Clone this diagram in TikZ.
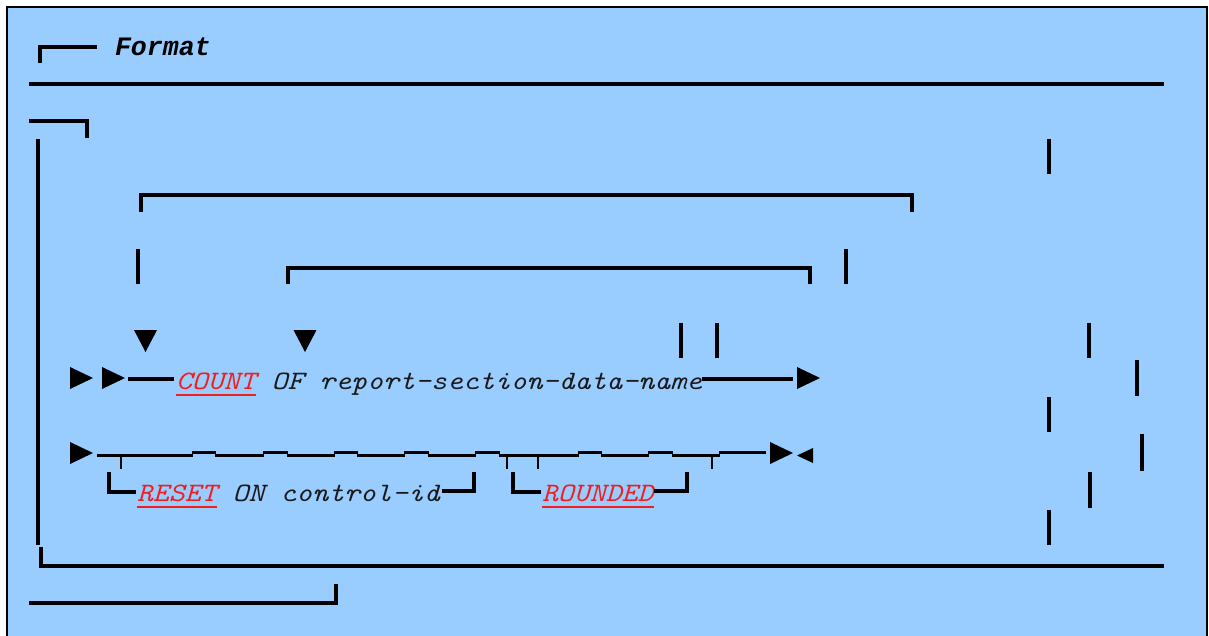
\documentclass[tikz,border=0pt]{standalone}
\usepackage{fontspec}
\setmonofont{Liberation Mono}
\newfontfamily\cmonoit[FakeStretch=1.143]{lmmono10-italic.otf}
\definecolor{bgblue}{HTML}{99CCFF}
\definecolor{kwred}{HTML}{F21E1E}
\definecolor{txtgray}{HTML}{1A1A1A}
\tikzset{
  ln/.style={line width=3.2pt},
  tick/.style={line width=2.4pt},
  uline/.style={kwred, line width=1.4pt},
  txt/.style={anchor=base west, inner sep=0pt, outer sep=0pt, text=txtgray,
    font=\fontsize{26.57}{30}\selectfont\cmonoit},
  kw/.style={txt, text=kwred},
  ttl/.style={anchor=base west, inner sep=0pt, outer sep=0pt, text=black,
    font=\fontsize{26.57}{30}\selectfont\ttfamily\bfseries\itshape},
  pics/rtri/.style={code={\fill (0,-11) -- (23,0) -- (0,11) -- cycle;}},
  pics/ltri/.style={code={\fill (0,0) -- (16,-7.5) -- (16,7.5) -- cycle;}},
  pics/dtri/.style={code={\fill (-11.5,0) -- (11.5,0) -- (0,22) -- cycle;}}
}
\begin{document}
\begin{tikzpicture}[x=1pt,y=-1pt]
\useasboundingbox (0,0) rectangle (1209,635);
\fill[bgblue] (7,7) rectangle (1207,636);
\draw[line width=2pt] (7,640) -- (7,7) -- (1207,7) -- (1207,640);

% title
\draw[ln] (40,63) -- (40,47) -- (97,47);
\node[ttl] (fmt) at (115,55) {Format};

% frame lines
\draw[ln] (29,84) -- (1164,84);
\draw[ln] (29,121) -- (87,121) -- (87,138);
\draw[ln] (38,139) -- (38,545);
\draw[ln] (41,547) -- (41,566) -- (1164,566);
\draw[ln] (29,603) -- (336,603) -- (336,584);

% brackets
\draw[ln] (141,212) -- (141,195) -- (912,195) -- (912,212);
\draw[ln] (288,284) -- (288,268) -- (810,268) -- (810,284);

% stray verticals
\foreach \x/\a/\b in {138/249/284, 846/249/284, 681/323/358, 717/323/358,
  1049/139/174, 1089/323/358, 1137/360/396, 1049/397/432, 1142/434/471,
  1090/472/508, 1049/510/545}
  \draw[ln] (\x,\a) -- (\x,\b);

% down triangles
\pic at (145.5,330) {dtri};
\pic at (305,330) {dtri};

% row 1
\pic at (70,378) {rtri};
\pic at (102,378) {rtri};
\coordinate (r1a) at (128,379);
\coordinate (r1b) at (174,379);
\draw[ln] (r1a) -- (r1b);
\node[kw] (count) at (176,389) {COUNT};
\draw[uline] ([yshift=-6pt]count.base west) -- ([yshift=-6pt]count.base east);
\node[txt] (ofname) at (count.base east) {\ OF report-section-data-name};
\coordinate (r1c) at (793,379);
\draw[ln] (ofname.east |- r1a) -- (r1c);
\pic at (797,378) {rtri};

% row 2
\pic at (70,453) {rtri};
\foreach \a/\b in {97/193, 215/264, 287/335, 357/405, 428/476, 499/579, 601/649, 672/720}
  \draw[ln] (\a,455.5) -- (\b,455.5);
\foreach \a/\b in {192/216, 263/288, 334/358, 404/429, 475/500, 578/602, 648/673, 719/766}
  \draw[ln] (\a,452.5) -- (\b,452.5);
\foreach \x in {121, 507, 538, 712}
  \draw[tick] (\x,455) -- (\x,469);
\pic at (770,453) {rtri};
\pic at (797,455.5) {ltri};

% row 3
\node[kw] (reset) at (137,501) {RESET};
\draw[uline] ([yshift=-6pt]reset.base west) -- ([yshift=-6pt]reset.base east);
\node[txt] (ctl) at (reset.base east) {\ ON control-id};
\draw[ln] (109,472) -- (109,492) -- (136,492);
\draw[ln] (442,491) -- (474,491) -- (474,472);

\node[kw] (rnd) at (542,501) {ROUNDED};
\draw[uline] ([yshift=-6pt]rnd.base west) -- ([yshift=-6pt]rnd.base east);
\draw[ln] (513,472) -- (513,492) -- (541,492);
\draw[ln] (rnd.base east |- 0,491) -- (687,491) -- (687,472);
\end{tikzpicture}
\end{document}
